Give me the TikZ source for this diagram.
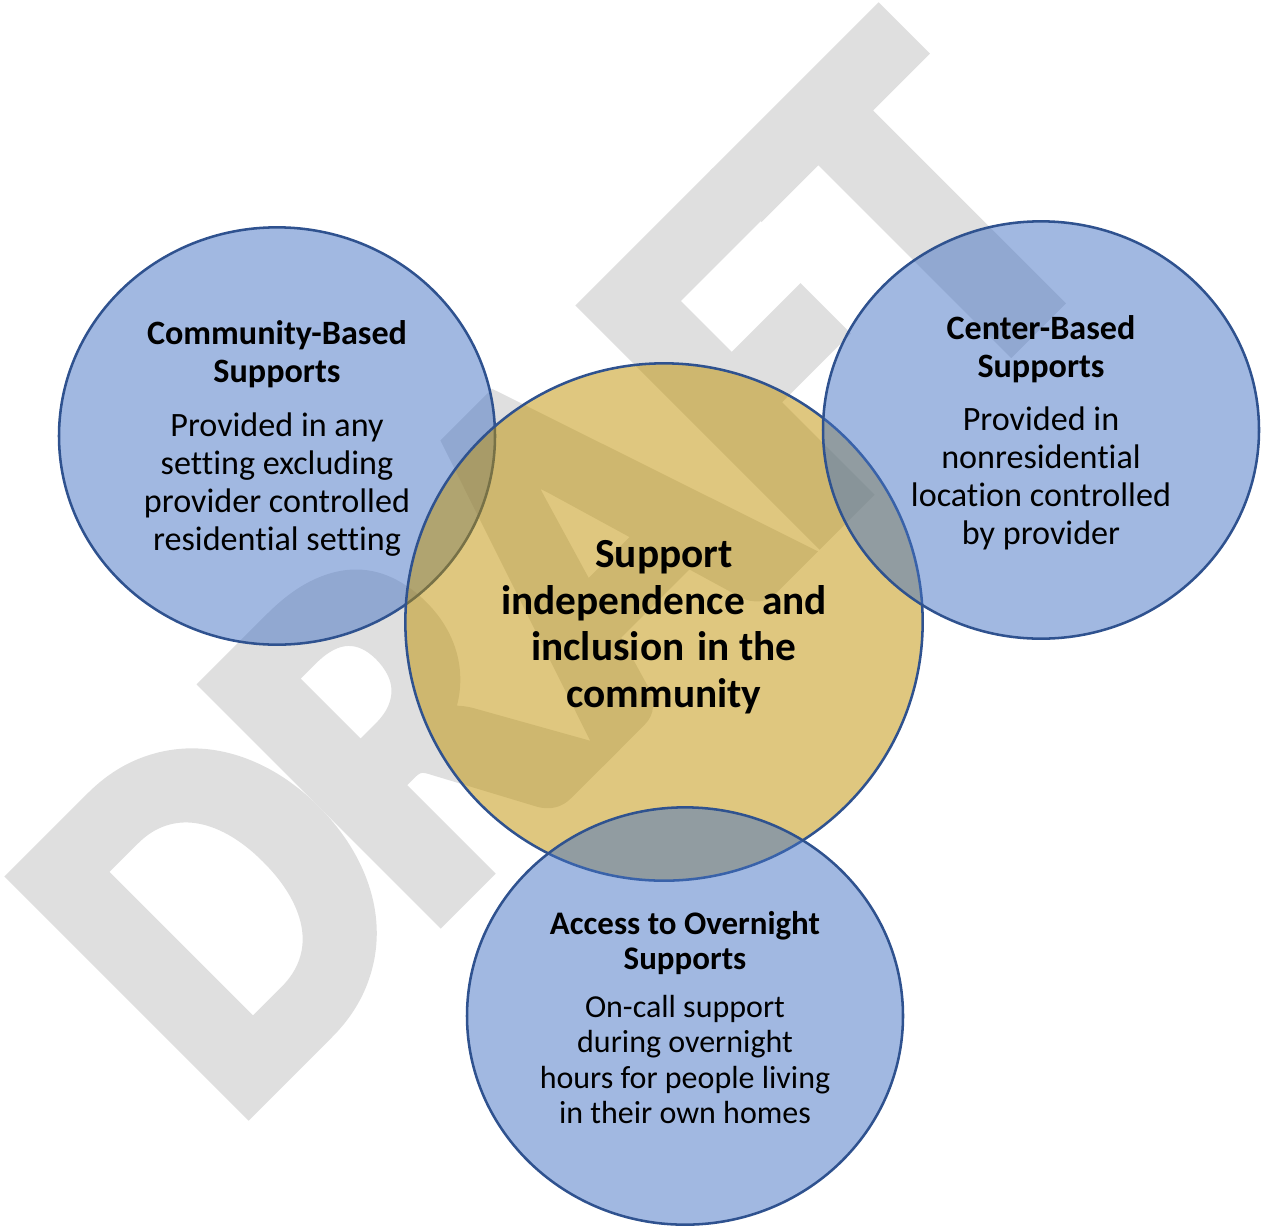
\documentclass[tikz,border=0pt]{standalone}
\usepackage{fontspec}
\setmainfont{Carlito}[Ligatures=NoCommon]
\newfontfamily\wmfont{Carlito}[UprightFont=* Bold, FakeBold=4]
\usepackage{tikz}
\usetikzlibrary{shapes.geometric}

\definecolor{accblue}{HTML}{4472C4}
\definecolor{accgold}{HTML}{BF9000}
\definecolor{rimblue}{HTML}{2F528F}
\definecolor{wmgray}{HTML}{DFDFDF}

\tikzset{
  blob/.style={ellipse, draw=rimblue, line width=1.9pt, fill opacity=0.5, inner sep=0pt},
  sidetext/.style={align=center, inner sep=0pt, font=\fontsize{25.6}{28.5}\selectfont},
  lowtext/.style={align=center, inner sep=0pt, font=\fontsize{24}{26.6}\selectfont},
  coretext/.style={align=center, inner sep=0pt, font=\bfseries\fontsize{31}{34.9}\selectfont},
}

\begin{document}
\begin{tikzpicture}[x=0.75pt,y=0.75pt,yscale=-1,xscale=1]
\useasboundingbox (0,0) rectangle (1262,1228);

% Watermark
\node [text=wmgray, inner sep=0pt, anchor=base, rotate=45, yscale=1.09, font=\wmfont\fontsize{345}{345}\selectfont] (draft) at (670.7,684.3) {D\kern-14pt RAFT};

%Shape: Ellipse
\node [blob, fill=accblue, minimum width=327pt, minimum height=313pt] (cbs) at (277,436) {};
%Shape: Circle
\node [blob, fill=accgold, minimum width=388pt, minimum height=388pt] (core) at (664,622) {};
%Shape: Ellipse
\node [blob, fill=accblue, minimum width=327pt, minimum height=313pt] (ctr) at (1041,430) {};
%Shape: Ellipse
\node [blob, fill=accblue, minimum width=327pt, minimum height=313pt] (night) at (685,1016) {};

% Text Node
\node [sidetext] (cbstxt) at ([yshift=2pt]cbs) {\textbf{Community-Based}\\\textbf{Supports}\\[12pt]Provided in any\\setting excluding\\provider controlled\\residential setting};
% Text Node
\node [coretext] (coretxt) at ([yshift=3.8pt]core) {Support\\independence\hspace{6pt} and\\inclusion\hspace{3pt} in the\\community};
% Text Node
\node [sidetext] (ctrtxt) at ([yshift=1.9pt]ctr) {\textbf{Center-Based}\\\textbf{Supports}\\[11pt]Provided in\\nonresidential\\location controlled\\by provider};
% Text Node
\node [lowtext] (nighttxt) at ([yshift=1.2pt]night) {{\bfseries\fontsize{24.7}{26.6}\selectfont Access to Overnight}\\{\bfseries\fontsize{24.7}{26.6}\selectfont Supports}\\[9pt]On-call support\\during overnight\\hours for people living\\in their own homes};

\end{tikzpicture}
\end{document}
